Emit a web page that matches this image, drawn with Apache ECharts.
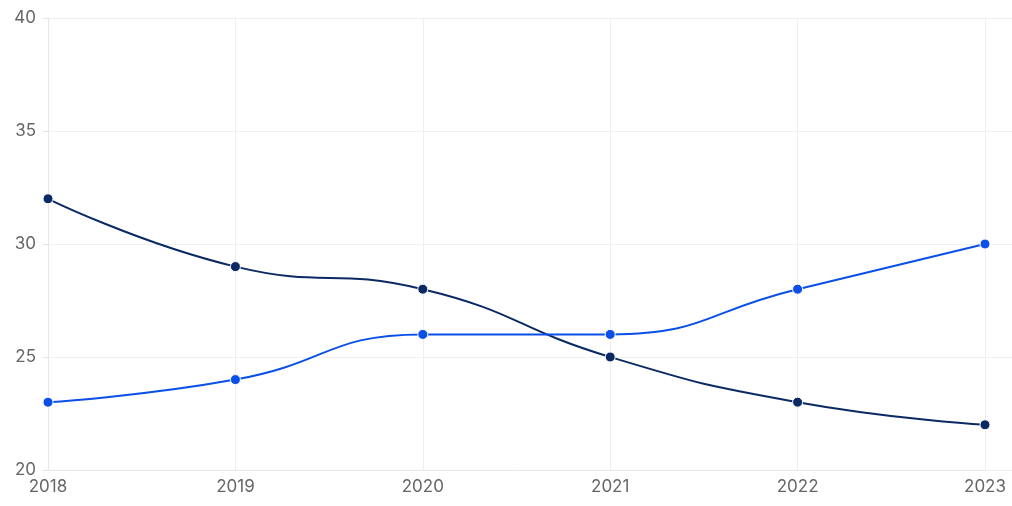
<!DOCTYPE html>
<html><head><meta charset="utf-8">
<script src="https://cdn.jsdelivr.net/npm/echarts@6/dist/echarts.min.js"></script>
<style>html,body{margin:0;padding:0;background:#fff}#c{width:1012px;height:506px}</style>
</head><body><div id="c"></div>
<script>
const years = ['2018','2019','2020','2021','2022','2023'];
const seriesDark = [32, 29, 28, 25, 23, 22];
const seriesBlue = [23, 24, 26, 26, 28, 30];
const yTicks = [20, 25, 30, 35, 40];

const chart = echarts.init(document.getElementById('c'));
const labelStyle = {color:'#666', fontSize:17, fontFamily:'Inter, sans-serif'};
chart.setOption({
  animation:false,
  grid:[
    {left:48, right:27, top:18, bottom:36},
    {left:48, right:0, top:18, bottom:36}
  ],
  xAxis:[
    {type:'category', gridIndex:0, data:years, boundaryGap:false,
     axisLine:{show:true, lineStyle:{color:'#e6e6e6'}},
     axisTick:{show:false},
     axisLabel:Object.assign({margin:8}, labelStyle),
     splitLine:{show:true, lineStyle:{color:'#eeeeee'}}},
    {type:'value', gridIndex:1, show:false, min:0, max:1}
  ],
  yAxis:[
    {type:'value', gridIndex:0, min:yTicks[0], max:yTicks[yTicks.length-1], interval:5,
     axisLine:{show:true, lineStyle:{color:'#e6e6e6'}},
     axisTick:{show:true, length:5, lineStyle:{color:'#e6e6e6'}},
     axisLabel:Object.assign({margin:12}, labelStyle),
     splitLine:{show:false}},
    {type:'value', gridIndex:1, min:yTicks[0], max:yTicks[yTicks.length-1], interval:5,
     axisLine:{show:false}, axisTick:{show:false}, axisLabel:{show:false},
     splitLine:{show:true, lineStyle:{color:'#f0f0f0'}}}
  ],
  series:[
    {type:'line', xAxisIndex:0, yAxisIndex:0, data:seriesDark, smooth:true,
     symbol:'circle', symbolSize:10, z:3,
     lineStyle:{color:'#0b2a63', width:2},
     itemStyle:{color:'#0b2a63', borderColor:'#fff', borderWidth:1}},
    {type:'line', xAxisIndex:0, yAxisIndex:0, data:seriesBlue, smooth:true,
     symbol:'circle', symbolSize:10, z:4,
     lineStyle:{color:'#0a4fe8', width:2},
     itemStyle:{color:'#0a4fe8', borderColor:'#fff', borderWidth:1}}
  ]
});
</script></body></html>
